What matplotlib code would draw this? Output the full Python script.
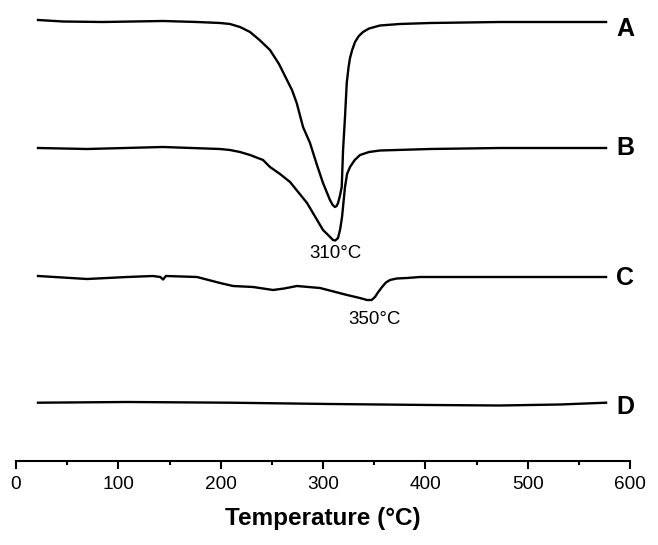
import matplotlib
matplotlib.use("Agg")
from matplotlib import pyplot as plt

plt.rcParams['font.family'] = ['Liberation Sans', 'DejaVu Sans']

# DSC traces, temperature (°C) vs. heat flow (arbitrary offset units)
temp_a = [21.5, 45.9, 85.0, 143.7, 176.9, 199.4, 209.1, 218.9, 228.7, 238.0,
          248.2, 257.0, 264.8, 269.7, 274.3, 280.5, 287.3, 294.1, 300.0, 306.8,
          309.5, 311.7, 313.3, 314.7, 316.5, 318.3, 319.6, 321.5, 323.2, 325.0,
          326.4, 328.5, 331.3, 335.0, 339.1, 345.0, 355.7, 375.0, 404.6, 473.0,
          531.6, 576.6]
flow_a = [441, 439.5, 439, 440, 439, 438, 437, 434, 429, 421,
          411, 397, 381, 371, 358, 334, 318, 296, 278, 261,
          256, 254, 255, 258, 265, 274, 311, 344, 378, 394,
          403, 411, 419, 425, 429, 432.5, 435.5, 437, 438, 439,
          439, 439]

temp_b = [21.5, 69.4, 143.7, 199.4, 209.1, 218.9, 228.7, 241.4, 248.2, 258.0,
          267.8, 284.4, 300.0, 305.0, 309.8, 312.0, 314.7, 316.8, 318.6, 321.5,
          323.5, 326.4, 331.0, 336.2, 345.0, 355.7, 404.6, 473.0, 576.6]
flow_b = [313, 312, 314, 312, 311, 309, 306, 301, 294, 287,
          279, 258, 231, 226, 221, 220.5, 223, 232, 244, 274,
          287, 294, 301, 306, 309, 310.5, 312, 313, 313]

temp_c = [21.5, 69.4, 108.5, 133.9, 141.0, 143.7, 146.5, 176.9, 199.4, 212.1,
          231.6, 251.2, 262.0, 274.6, 297.1, 323.5, 336.0, 343.0, 347.5, 350.8,
          354.0, 357.7, 361.5, 365.5, 372.0, 382.1, 394.8, 473.0, 576.6]
flow_c = [185, 182, 184, 185, 184, 181.5, 185, 184, 178, 175,
          174, 171, 172.5, 175, 173, 166, 163, 161, 161, 164,
          169, 174, 178.5, 181, 182.5, 183, 184, 184, 184]

temp_d = [21.5, 108.5, 209.1, 306.8, 404.6, 473.0, 531.6, 576.6]
flow_d = [58.3, 59.0, 58.3, 57.0, 56.0, 55.5, 56.5, 58.3]

curve_labels = ["A", "B", "C", "D"]
label_temp = 595
label_flow = [432, 313, 183, 54]

peaks = ["310°C", "350°C"]
peak_temp = [311.7, 350.8]
peak_flow = [207.5, 141.5]

fig = plt.figure(figsize=(6.58, 5.45), dpi=100)
ax = fig.add_axes([16 / 658, 84 / 545, 614 / 658, 461 / 545])

for t, f in [(temp_a, flow_a), (temp_b, flow_b), (temp_c, flow_c), (temp_d, flow_d)]:
    ax.plot(t, f, color="black", lw=1.7, solid_joinstyle="round")

for name, y in zip(curve_labels, label_flow):
    ax.text(label_temp, y, name, fontsize=18, fontweight="bold", ha="center", va="center")

for txt, x, y in zip(peaks, peak_temp, peak_flow):
    ax.text(x, y, txt, fontsize=13.5, ha="center", va="center")

ax.set_xlim(0, 600)
ax.set_ylim(0, 461)
ax.set_xticks(range(0, 601, 100))
ax.set_xticks(range(50, 600, 100), minor=True)
ax.set_yticks([])
for side in ["left", "right", "top"]:
    ax.spines[side].set_visible(False)
ax.spines["bottom"].set_linewidth(1.5)
ax.tick_params(axis="x", which="major", length=6, width=1.5, labelsize=13.7, pad=5)
ax.tick_params(axis="x", which="minor", length=3, width=1.5)
ax.set_xlabel("Temperature (°C)", fontsize=17.5, fontweight="bold", labelpad=10)

fig.savefig("out.png", dpi=100)
